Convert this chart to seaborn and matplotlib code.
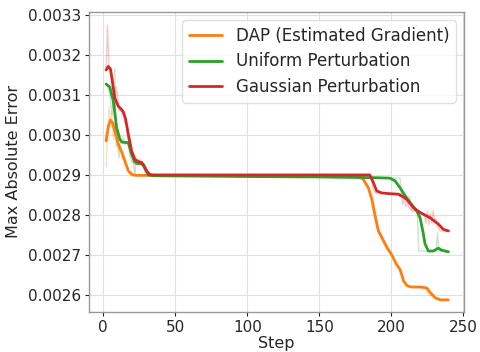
import numpy as np
import pandas as pd
import matplotlib
matplotlib.use("Agg")
import matplotlib.pyplot as plt
import matplotlib.ticker as mticker
import seaborn as sns

labels = ["DAP (Estimated Gradient)", "Uniform Perturbation", "Gaussian Perturbation"]
colors = ["#ff7f0e", "#2ca02c", "#d62728"]

# ---- smoothed curves (step, value x 1e-3) ----
dap_steps = [2, 3.5, 5, 6.5, 8, 10.5, 13, 15, 17.5, 20, 22, 30, 60, 100, 150, 177,
             180.5, 184, 186.5, 188.5, 191, 193.5, 197, 200, 203.5, 206, 208.5, 211,
             214, 220, 224.5, 227, 230.5, 234, 239.5]
dap_vals = [2.985, 3.020, 3.037, 3.030, 3.010, 2.977, 2.956, 2.935, 2.910, 2.901, 2.899,
            2.899, 2.899, 2.898, 2.898, 2.897, 2.889, 2.868, 2.839, 2.802, 2.760, 2.743,
            2.718, 2.702, 2.677, 2.664, 2.635, 2.623, 2.620, 2.620, 2.618, 2.606, 2.593,
            2.588, 2.588]

uni_steps = [2, 4.5, 7, 9.3, 11.6, 13, 15, 17.4, 19.7, 21.5, 23.2, 27.8, 29.5, 31.3, 34,
             100, 150, 190, 199, 202.6, 206, 209.5, 213, 217.6, 219.9, 221.8, 223.4,
             225.7, 229.2, 232.6, 235, 239.6]
uni_vals = [3.127, 3.120, 3.085, 3.018, 2.989, 2.982, 2.981, 2.981, 2.952, 2.935, 2.929,
            2.927, 2.915, 2.900, 2.898, 2.896, 2.895, 2.893, 2.892, 2.885, 2.868, 2.848,
            2.831, 2.810, 2.793, 2.760, 2.727, 2.710, 2.710, 2.717, 2.712, 2.708]

gau_steps = [2, 3.5, 5, 6, 8, 10.4, 12.5, 13.9, 15.5, 17.4, 19.7, 22, 24, 26.6, 28.5,
             30.1, 32.4, 35, 100, 150, 185, 187.5, 189.8, 193.3, 199.1, 204.9, 208.3,
             210.7, 215.3, 220, 226.9, 232.6, 236.1, 239.6]
gau_vals = [3.162, 3.171, 3.165, 3.143, 3.093, 3.072, 3.064, 3.058, 3.040, 3.002, 2.960,
            2.939, 2.934, 2.931, 2.920, 2.910, 2.901, 2.900, 2.900, 2.900, 2.900, 2.881,
            2.860, 2.855, 2.853, 2.852, 2.845, 2.839, 2.818, 2.806, 2.793, 2.777, 2.764,
            2.760]

# ---- raw (unsmoothed) curves (step, value x 1e-3) ----
dap_raw_steps = [2, 3, 4, 5, 6, 7, 8, 9, 10, 11, 12, 13, 14, 15, 16, 17, 18, 19, 20, 22,
                 100, 177, 180, 182, 184, 186, 188, 190, 192, 194, 196, 198, 200, 202,
                 204, 206, 208, 210, 212, 216, 222, 224, 226, 228, 230, 232, 234, 239]
dap_raw_vals = [2.920, 3.000, 3.070, 3.020, 3.060, 2.990, 3.030, 2.970, 2.990, 2.960,
                2.965, 2.940, 2.950, 2.930, 2.925, 2.910, 2.905, 2.900, 2.899, 2.899,
                2.898, 2.897, 2.893, 2.875, 2.870, 2.835, 2.800, 2.765, 2.748, 2.735,
                2.722, 2.712, 2.700, 2.690, 2.672, 2.662, 2.640, 2.625, 2.620, 2.622,
                2.618, 2.615, 2.600, 2.598, 2.592, 2.589, 2.588, 2.588]

uni_raw_steps = [2, 3, 4, 5, 6, 7, 8, 9, 10, 11, 12, 13, 14, 15, 16, 17, 18, 19, 20, 21,
                 22, 23, 24, 25, 26, 27, 28, 29, 30, 31, 100, 203, 206, 207, 213, 214,
                 218, 219, 231, 232, 233, 239]
uni_raw_vals = [3.127, 3.120, 3.110, 3.090, 3.050, 3.100, 3.165, 3.020, 2.970, 2.943,
                2.990, 2.980, 2.995, 2.975, 2.985, 2.980, 2.960, 2.940, 2.930, 2.935,
                2.925, 2.930, 2.925, 2.930, 2.925, 2.930, 2.920, 2.905, 2.900, 2.898,
                2.896, 2.892, 2.892, 2.848, 2.845, 2.810, 2.810, 2.710, 2.710, 2.756,
                2.710, 2.708]

gau_raw_steps = [2, 3, 4, 5, 6, 7, 8, 9, 10, 11, 12, 13, 14, 15, 16, 17, 18, 19, 20, 21,
                 22, 23, 24, 25, 26, 27, 28, 29, 30, 31, 32, 100, 185, 186, 187, 188,
                 189, 204, 205, 206, 207, 208, 209, 210, 211, 212, 213, 218, 223, 224,
                 225, 226, 227, 228, 229, 230, 231, 232, 233, 234, 239]
gau_raw_vals = [3.162, 3.273, 3.170, 3.160, 3.130, 3.080, 3.060, 3.120, 3.100, 3.060,
                3.070, 3.050, 3.060, 3.030, 3.040, 2.990, 2.980, 2.950, 2.960, 2.930,
                2.900, 2.940, 2.930, 2.940, 2.930, 2.935, 2.920, 2.910, 2.905, 2.900,
                2.900, 2.900, 2.900, 2.890, 2.870, 2.860, 2.855, 2.853, 2.852, 2.845,
                2.855, 2.825, 2.850, 2.820, 2.835, 2.820, 2.815, 2.808, 2.800, 2.780,
                2.810, 2.775, 2.805, 2.780, 2.810, 2.785, 2.790, 2.770, 2.765, 2.760,
                2.760]

smooth = [(dap_steps, dap_vals), (uni_steps, uni_vals), (gau_steps, gau_vals)]
raw = [(dap_raw_steps, dap_raw_vals), (uni_raw_steps, uni_raw_vals),
       (gau_raw_steps, gau_raw_vals)]

sns.set_style("whitegrid", {
    "axes.edgecolor": "0.6",
    "grid.color": "0.88",
    "xtick.bottom": True,
    "ytick.left": True,
})
plt.rcParams["font.family"] = ["DejaVu Sans"]
plt.rcParams["xtick.major.size"] = 3
plt.rcParams["ytick.major.size"] = 3
plt.rcParams["xtick.color"] = "0.15"
plt.rcParams["ytick.color"] = "0.15"

fig = plt.figure(figsize=(4.8, 3.52), dpi=100)
ax = fig.add_axes([0.185, 0.114, 0.782, 0.852])

for (rs, rv), c in zip(raw, colors):
    df = pd.DataFrame({"Step": rs, "v": np.array(rv) * 1e-3})
    sns.lineplot(data=df, x="Step", y="v", ax=ax, color=c, alpha=0.25, lw=1.0,
                 legend=False)

for (ss, sv), c, lab in zip(smooth, colors, labels):
    df = pd.DataFrame({"Step": ss, "v": np.array(sv) * 1e-3})
    sns.lineplot(data=df, x="Step", y="v", ax=ax, color=c, lw=2.0, label=lab)

ax.set_xlim(-10, 250.5)
ax.set_ylim(0.002558, 0.003307)
ax.set_xticks([0, 50, 100, 150, 200, 250])
ax.set_yticks([0.0026, 0.0027, 0.0028, 0.0029, 0.0030, 0.0031, 0.0032, 0.0033])
ax.yaxis.set_major_formatter(mticker.FormatStrFormatter("%.4f"))
ax.tick_params(labelsize=11, pad=2.5)
ax.set_xlabel("Step", fontsize=11.5, labelpad=1)
ax.set_ylabel("Max Absolute Error", fontsize=11.5, labelpad=5)
for s in ax.spines.values():
    s.set_linewidth(1.0)

leg = ax.legend(loc="upper right", fontsize=12, frameon=True, borderaxespad=0.5,
                handlelength=2.0, labelspacing=0.45)
leg.get_frame().set_edgecolor("0.85")

fig.savefig("out.png", dpi=100)
